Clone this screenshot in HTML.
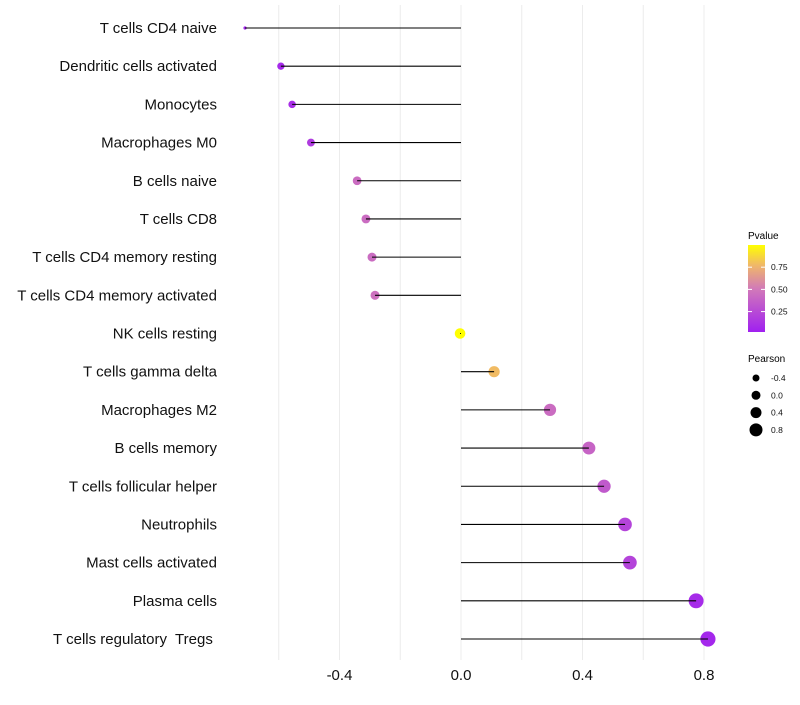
<!DOCTYPE html>
<html><head><meta charset="utf-8"><style>
body{margin:0;background:#fff;font-family:"Liberation Sans",sans-serif;}
text{white-space:pre;}
</style></head><body>
<svg id="chart" width="800" height="700" xmlns="http://www.w3.org/2000/svg" font-family="Liberation Sans, sans-serif">
<defs><linearGradient id="pg" x1="0" y1="1" x2="0" y2="0">
<stop offset="0" stop-color="#a020f0"/><stop offset="0.5" stop-color="#d27ab8"/><stop offset="0.77" stop-color="#f0b868"/><stop offset="1" stop-color="#ffff00"/></linearGradient></defs>
<g id="grid"></g>
<g id="dots"></g>
<g id="marks"></g>
<g id="ylabels"></g>
<g id="xlabels"></g>
<g>
<text x="748" y="239" font-size="10">Pvalue</text>
<rect x="748" y="245" width="17" height="87" fill="url(#pg)"/>
<g id="cbticks"></g>
</g>
<g id="sizeleg">
<text x="748" y="362" font-size="10">Pearson</text>
</g>
</svg>
<script>
const categories=["T cells CD4 naive","Dendritic cells activated","Monocytes","Macrophages M0","B cells naive","T cells CD8","T cells CD4 memory resting","T cells CD4 memory activated","NK cells resting","T cells gamma delta","Macrophages M2","B cells memory","T cells follicular helper","Neutrophils","Mast cells activated","Plasma cells","T cells regulatory  Tregs "];
const pearson=[-0.711,-0.593,-0.556,-0.494,-0.342,-0.313,-0.293,-0.283,-0.003,0.109,0.293,0.421,0.471,0.54,0.556,0.774,0.813];
const pvalues=[0.02,0.05,0.08,0.15,0.42,0.42,0.42,0.45,1.0,0.78,0.42,0.38,0.32,0.2,0.2,0.06,0.04];
const xTicks=[-0.4,0.0,0.4,0.8];
const xTickLabels=["-0.4","0.0","0.4","0.8"];
const gridVals=[-0.6,-0.4,-0.2,0,0.2,0.4,0.6,0.8];
const cbTicks=[0.25,0.5,0.75];
const cbTickLabels=["0.25","0.50","0.75"];
const sizeLegVals=[-0.4,0.0,0.4,0.8];
const sizeLegLabels=["-0.4","0.0","0.4","0.8"];

const NS="http://www.w3.org/2000/svg";
const X=v=>461+v*303.75;
const Y=i=>28+i*(611/16);
const R=v=>v<-0.65?1.6:Math.max(1.6,5.3+2.8*v);
const RL=v=>4.5+2.5*v;
const CB=p=>332-(p-0.02)/(0.98)*87;
function mk(t,a,p){const e=document.createElementNS(NS,t);for(const k in a)e.setAttribute(k,a[k]);p.appendChild(e);return e;}
function lerp(a,b,t){return a.map((v,i)=>Math.round(v+(b[i]-v)*t));}
function col(p){const s=[[0,[160,32,240]],[0.5,[210,122,184]],[0.77,[240,184,104]],[1,[255,255,0]]];
for(let i=1;i<s.length;i++){if(p<=s[i][0]){const t=(p-s[i-1][0])/(s[i][0]-s[i-1][0]);const c=lerp(s[i-1][1],s[i][1],t);return `rgb(${c})`;}}return "rgb(255,255,0)";}
const grid=document.getElementById('grid'),marks=document.getElementById('marks'),dots=document.getElementById('dots'),yl=document.getElementById('ylabels'),xl=document.getElementById('xlabels');
gridVals.forEach(v=>{const l=mk('line',{x1:X(v),x2:X(v),y1:5,y2:660,stroke:'#ececec','stroke-width':1},grid);

});
categories.forEach((c,i)=>{
const d=mk('circle',{cx:X(pearson[i]),cy:Y(i),r:R(pearson[i]),fill:col(pvalues[i])},dots);


const ln=mk('line',{x1:X(0),x2:X(pearson[i]),y1:Y(i),y2:Y(i),stroke:'#000','stroke-width':1.1},marks);


const t=mk('text',{x:217,y:Y(i)+5,'text-anchor':'end','font-size':15,fill:'#111'},yl);t.textContent=c;


});
xTicks.forEach((v,i)=>{const t=mk('text',{x:X(v),y:680,'text-anchor':'middle','font-size':15,fill:'#111'},xl);t.textContent=xTickLabels[i];

});
const cbt=document.getElementById('cbticks');
cbTicks.forEach((v,i)=>{const y=CB(v);
mk('line',{x1:748,x2:752,y1:y,y2:y,stroke:'#fff','stroke-width':1},cbt);
mk('line',{x1:761,x2:765,y1:y,y2:y,stroke:'#fff','stroke-width':1},cbt);
const t=mk('text',{x:771,y:y+3,'font-size':8.5,fill:'#111'},cbt);t.textContent=cbTickLabels[i];

});
const sl=document.getElementById('sizeleg');
sizeLegVals.forEach((v,i)=>{const y=378+i*17.3;
const c=mk('circle',{cx:756,cy:y,r:RL(v),fill:'#000'},sl);


const t=mk('text',{x:771,y:y+3,'font-size':8.5,fill:'#111'},sl);t.textContent=sizeLegLabels[i];

});
</script>
</body></html>
